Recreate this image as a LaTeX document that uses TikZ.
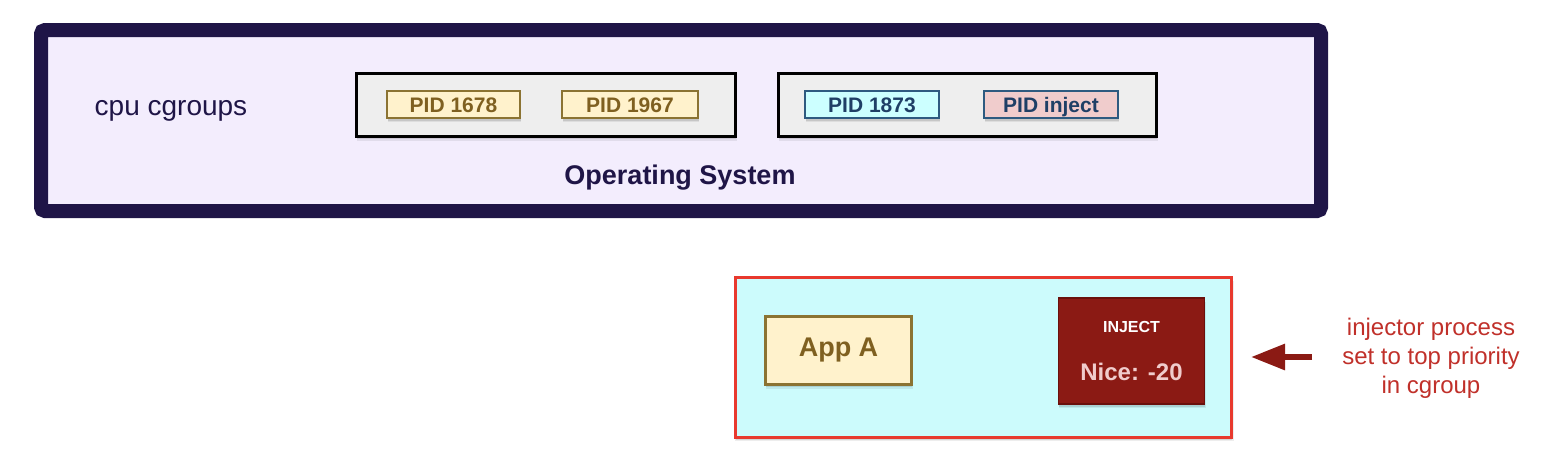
\documentclass[tikz,border=0pt]{standalone}
\usepackage{fontspec}
\setmainfont{Liberation Sans}
\usetikzlibrary{shadows,arrows.meta}
\definecolor{osnavy}{HTML}{1F1547}
\definecolor{osfill}{HTML}{F3EDFD}
\definecolor{grpfill}{HTML}{EEEEEE}
\definecolor{ylwfill}{HTML}{FFF2CC}
\definecolor{ylwdraw}{HTML}{8B7332}
\definecolor{ylwtext}{HTML}{7F6020}
\definecolor{cyanfill}{HTML}{CCFFFF}
\definecolor{bluedraw}{HTML}{2E5A80}
\definecolor{bluetext}{HTML}{1F3F66}
\definecolor{pinkfill}{HTML}{F0CCCC}
\definecolor{cellfill}{HTML}{CCFBFC}
\definecolor{cellred}{HTML}{E8392E}
\definecolor{injfill}{HTML}{8B1A14}
\definecolor{injdraw}{HTML}{6A100C}
\definecolor{notered}{HTML}{C0302A}
\tikzset{
  shade/.style={
    drop shadow={shadow xshift=1pt,shadow yshift=-4pt,opacity=0.07,fill=black,shadow scale=1.005},
    drop shadow={shadow xshift=0.5pt,shadow yshift=-2.5pt,opacity=0.10,fill=black}},
  osbox/.style={draw=osnavy,fill=osfill,line width=14pt,rounded corners=4pt,inner sep=0pt,shade},
  grpbox/.style={draw=black,fill=grpfill,line width=3pt,inner sep=0pt,shade},
  pidbox/.style={line width=1.8pt,inner sep=0pt,minimum height=27pt,
    text height=17.5pt,text depth=1.5pt,
    font=\fontsize{21}{24}\selectfont\bfseries,shade},
  pidy/.style={pidbox,draw=ylwdraw,fill=ylwfill,text=ylwtext},
  pidb/.style={pidbox,draw=bluedraw,text=bluetext},
  cellbox/.style={draw=cellred,fill=cellfill,line width=3pt,inner sep=0pt,shade},
  appbox/.style={draw=ylwdraw,fill=ylwfill,line width=3pt,inner sep=0pt,text=ylwtext,
    font=\fontsize{27}{30}\selectfont\bfseries,shade},
  injbox/.style={draw=injdraw,fill=injfill,line width=1.5pt,inner sep=0pt,shade},
}
\begin{document}
\begin{tikzpicture}[x=1pt,y=-1pt]
\useasboundingbox (0,0) rectangle (1552,466);
% OS box
\node[osbox,minimum width=1280pt,minimum height=181pt] (os) at (681,120.5) {};
\node[text=osnavy,font=\fontsize{28}{31}\selectfont] (cpu) at (171,111) {cpu cgroups};
\node[text=osnavy,font=\fontsize{27}{30}\selectfont\bfseries] (oslbl) at (680,178) {Operating System};
% groups
\node[grpbox,minimum width=379pt,minimum height=63pt] (g1) at (546,105) {};
\node[grpbox,minimum width=378pt,minimum height=63pt] (g2) at (967.5,105) {};
% PIDs
\node[pidy,minimum width=133pt] (p1) at (453.5,104.5) {PID 1678};
\node[pidy,minimum width=136pt] (p2) at (630,104.5) {PID 1967};
\node[pidb,fill=cyanfill,minimum width=134pt] (p3) at (872,104.5) {PID 1873};
\node[pidb,fill=pinkfill,minimum width=134pt] (p4) at (1051,104.5) {PID inject};
% cgroup cell
\node[cellbox,minimum width=496pt,minimum height=160pt] (cell) at (983.5,357) {};
\node[appbox,minimum width=146pt,minimum height=68pt] (app) at (838.5,350.5) {App A};
\node[injbox,minimum width=146pt,minimum height=106pt] (inj) at (1131.5,351) {};
\node[text=white,font=\fontsize{16}{18}\selectfont\bfseries] (injl) at (1131.5,327) {INJECT};
\node[text=pinkfill,font=\fontsize{24}{27}\selectfont\bfseries] (nice) at (1131.5,372) {Nice: -20};
% note
\node[text=notered,align=center,font=\fontsize{24}{29}\selectfont] (note) at (1431,358)
  {injector process\\set to top priority\\in cgroup};
\coordinate (arrS) at (1312,357);
\coordinate (arrT) at (1251,357);
\draw[injfill,line width=6pt,-{Triangle[length=34pt,width=25pt]}] (arrS) -- (arrT);
\end{tikzpicture}
\end{document}
